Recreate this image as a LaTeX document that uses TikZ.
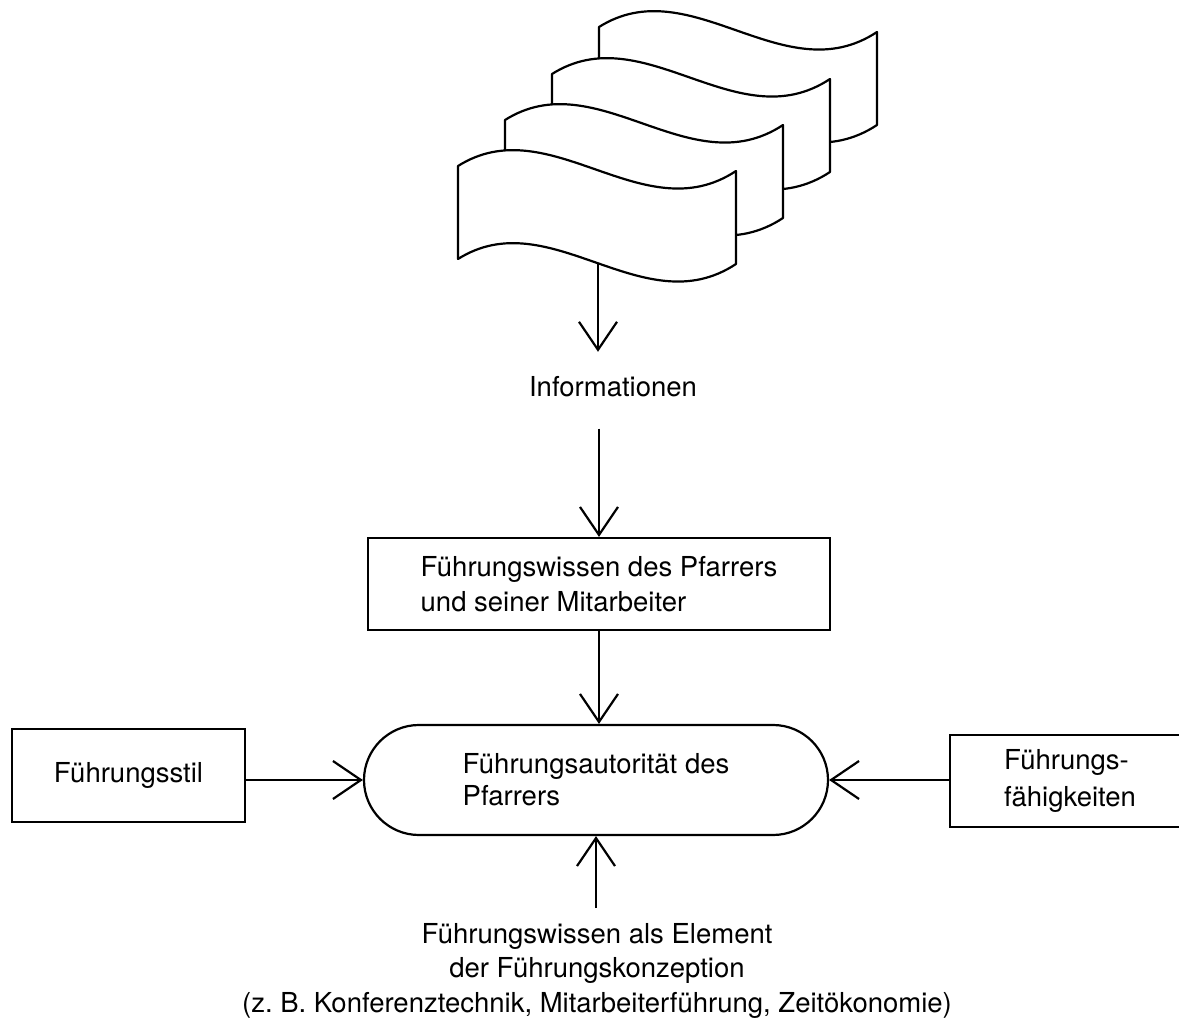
\documentclass[tikz,border=0pt]{standalone}
\usepackage{fontspec}
\setmainfont{TeX Gyre Heros}
\usetikzlibrary{arrows.meta}
\begin{document}
\begin{tikzpicture}[x=0.5pt,y=-0.5pt,
  line width=1.1pt,
  txt/.style={font=\fontsize{13.75}{17.25}\selectfont},
  box/.style={draw, txt, align=left, inner sep=0pt},
  arr/.style={-{Straight Barb[length=14pt,width=19pt,line width=1.1pt]}},
  sheet/.pic={
    \draw[fill=white,line join=round]
      (0,0) .. controls (92,-58) and (185,66.5) .. (278,5)
      -- (278,98) .. controls (185,159.5) and (92,35) .. (0,93) -- cycle;
    \coordinate (-bot) at (140,96.8);
  }]
% page
\fill[white] (0,0) rectangle (1179,1026);
\clip (0,0) rectangle (1179,1026);

% stack of information sheets, back to front
\pic (d4) at (599,27) {sheet};
\pic (d3) at (552,74) {sheet};
\pic (d2) at (505,120) {sheet};
\pic (d1) at (458,166) {sheet};

% labels and boxes
\node[txt, inner sep=0pt, anchor=base] (info) at (613,397) {Informationen};

\node[box, minimum width=231pt, minimum height=46pt] (wissen) at (599,584)
  {Führungswissen des Pfarrers\\und seiner Mitarbeiter};

\node[box, rounded corners=27.5pt, minimum width=232pt, minimum height=55pt,
      font=\fontsize{13.75}{16}\selectfont] (autor) at (596,780)
  {Führungsautorität des\\Pfarrers};

\node[box, align=center, minimum width=116.5pt, minimum height=46.5pt] (stil) at (128.5,775.5)
  {Führungsstil};

\node[box, minimum width=120pt, minimum height=46pt,
      font=\fontsize{13.75}{18.5}\selectfont] (faehig) at (1070,781)
  {Führungs-\\fähigkeiten};

\node[txt, align=center, inner sep=0pt, anchor=north] (element) at (597,922)
  {Führungswissen als Element\\der Führungskonzeption\\(z.\ B. Konferenztechnik, Mitarbeiterführung, Zeitökonomie)};

% connectors
\draw[arr, shorten >=12pt] (d1-bot) -- (d1-bot |- info.north);
\draw[arr, shorten <=15pt] (info.south -| wissen.north) -- (wissen.north);
\draw[arr] (wissen.south) -- (wissen.south |- autor.north);
\draw[arr, shorten <=7pt] (element.north -| autor.south) -- (autor.south);
\draw[arr] (stil.east |- autor.west) -- (autor.west);
\draw[arr] (faehig.west |- autor.east) -- (autor.east);
\end{tikzpicture}
\end{document}
